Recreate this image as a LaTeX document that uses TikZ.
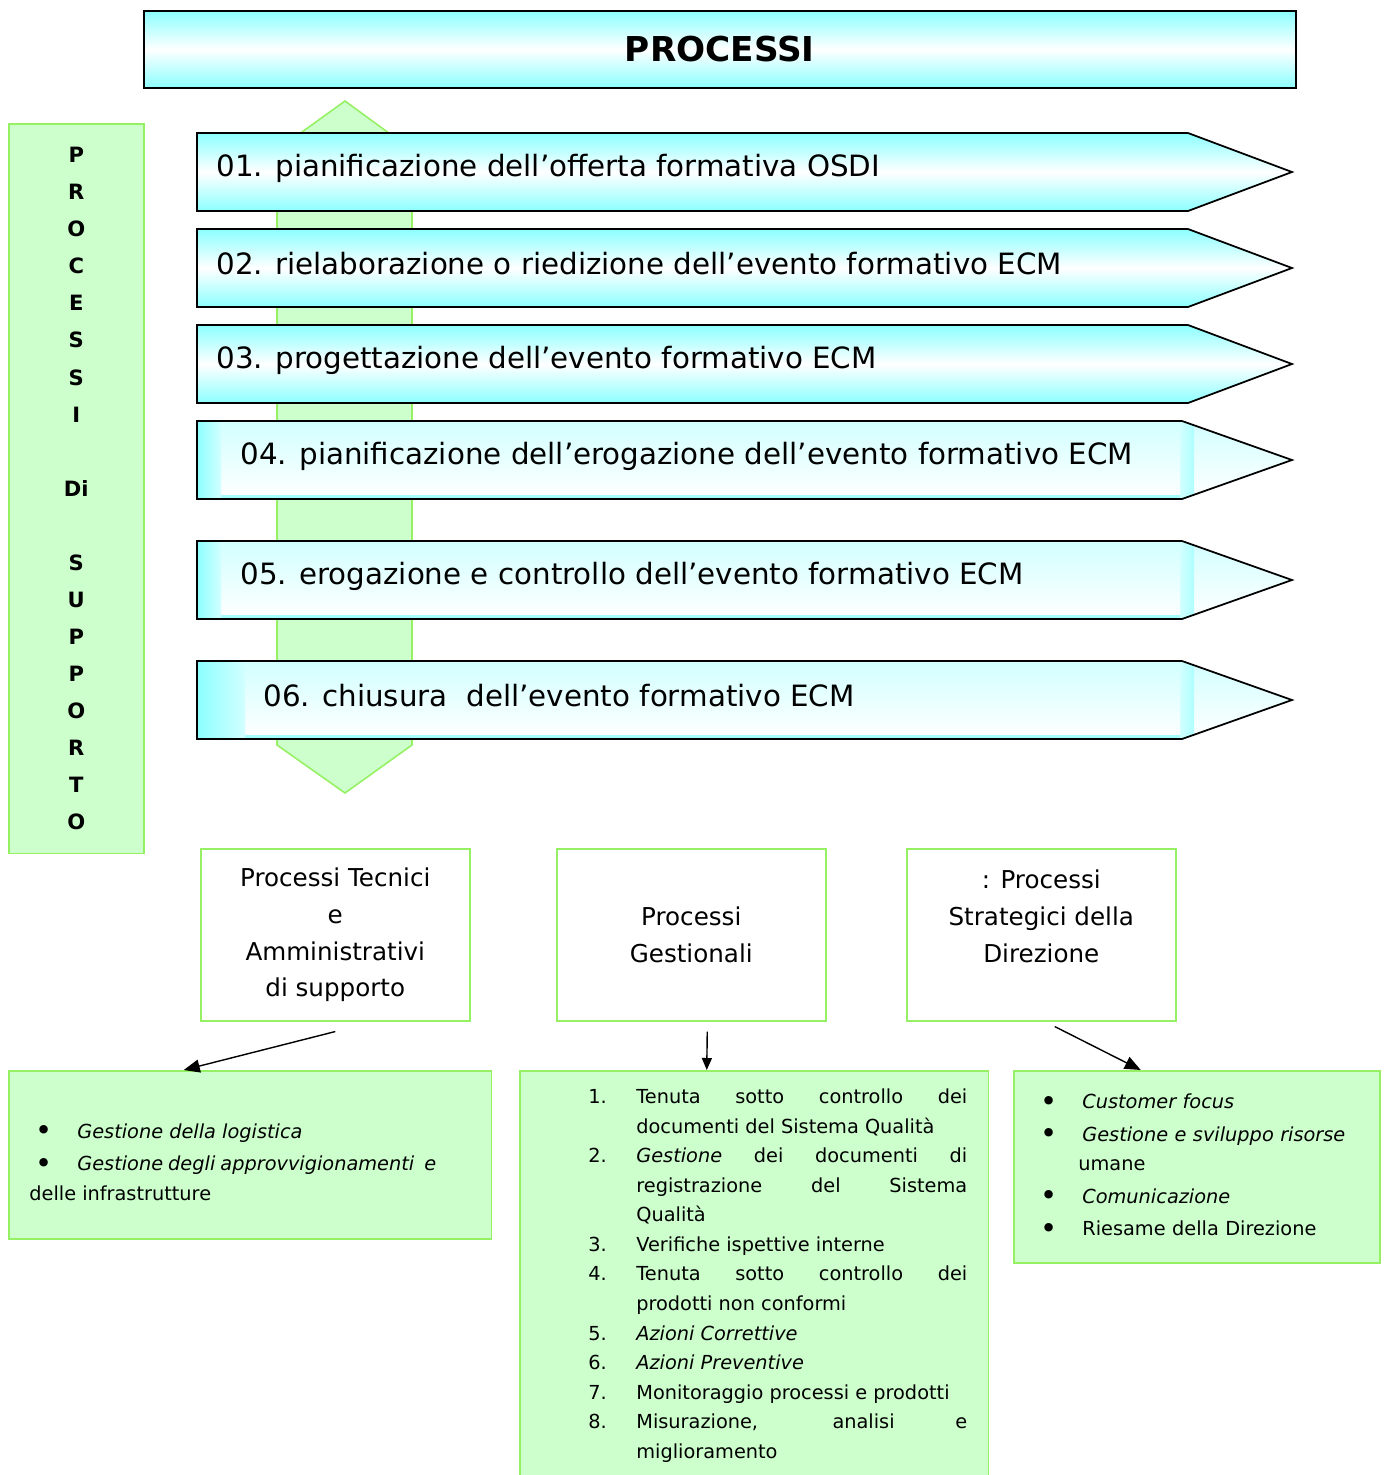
\documentclass[tikz,border=0pt]{standalone}
\usepackage{fontspec}
\usepackage{graphicx}
\setmainfont{DejaVu Sans}
\usetikzlibrary{arrows.meta,positioning}
\definecolor{procCyan}{RGB}{140,255,255}
\definecolor{cyanLight}{RGB}{210,255,255}
\definecolor{supGreen}{RGB}{204,255,204}
\definecolor{supLine}{RGB}{150,240,100}
\newcommand\pallino{\raisebox{-1.4pt}{\scalebox{1.5}{\textbullet}}}
\newcommand\voce[2]{\par\hangindent=9.6mm\hangafter=1\makebox[9.6mm][l]{#1}#2}
\newcommand\punto[1]{\par\hangindent=8.8mm\hangafter=1\makebox[9.6mm][l]{\hspace{1.2mm}\pallino}#1}
\begin{document}
\begin{tikzpicture}[x=0.02cm,y=-0.02cm,
	greenbox/.style={draw=supLine,line width=0.9pt,fill=supGreen,inner sep=0,anchor=north west},
	whitebox/.style={draw=supLine,line width=0.9pt,fill=white,align=center,anchor=north west,
		minimum width=53.8mm,minimum height=34.4mm,font=\fontsize{14}{21}\selectfont},
	steplbl/.style={anchor=west,inner sep=0,font=\fontsize{16.7}{20}\selectfont},
	listtxt/.style={anchor=north west,inner sep=0,font=\fontsize{11}{16.8}\selectfont},
	link/.style={-{Triangle[length=3.2mm,width=2.6mm]},line width=0.8pt}]
\useasboundingbox (0,0) rectangle (1385,1475);

% titolo
\node[draw,line width=1pt,top color=procCyan,bottom color=procCyan,middle color=white,
	minimum width=230.4mm,minimum height=15.4mm,anchor=north west,
	font=\bfseries\fontsize{19.5}{24}\selectfont] (titolo) at (143,10) {PROCESSI};

% processi di supporto
\node[greenbox,minimum width=27mm,minimum height=146mm,align=center,
	font=\bfseries\fontsize{12}{21.1}\selectfont] (supporto) at (8,123)
	{P\\R\\O\\C\\E\\S\\S\\I\\~\\Di\\~\\S\\U\\P\\P\\O\\R\\T\\O};

% freccia verticale
\draw[draw=supLine,line width=0.9pt,fill=supGreen] (345,101) -- (412,150) -- (412,745)
	-- (345,793) -- (277,745) -- (277,150) -- cycle;

% fasi 01-03
\foreach \y/\lbl [count=\i] in {172/{01. pianificazione dell’offerta formativa OSDI},
	268/{02. rielaborazione o riedizione dell’evento formativo ECM},
	364/{03. progettazione dell’evento formativo ECM}} {
	\draw[line width=1pt,top color=procCyan,bottom color=procCyan,middle color=white]
		(197,\y-39) -- (1188,\y-39) -- (1292,\y) -- (1188,\y+39) -- (197,\y+39) -- cycle;
	\node[steplbl] (fase\i) at (216,\y-4) {\lbl};
}

% fasi 04-06
\foreach \y/\ix/\tx/\lbl [count=\i from 4] in {460/221/240/{04. pianificazione dell’erogazione dell’evento formativo ECM},
	580/221/240/{05. erogazione e controllo dell’evento formativo ECM},
	700/245/263/{06. chiusura~ dell’evento formativo ECM}} {
	\begin{scope}
		\clip (197,\y-39) -- (1182,\y-39) -- (1292,\y) -- (1182,\y+39) -- (197,\y+39) -- cycle;
		\fill[top color=cyanLight,bottom color=white] (197,\y-39) rectangle (1292,\y+39);
		\fill[left color=procCyan,right color=cyanLight] (197,\y-39) rectangle (\ix,\y+39);
		\fill[procCyan!80] (\ix,\y+35) rectangle (1182,\y+39);
		\fill[left color=cyanLight,right color=procCyan!70] (1180,\y-39) rectangle (1194,\y+39);
	\end{scope}
	\draw[line width=1pt] (197,\y-39) -- (1182,\y-39) -- (1292,\y) -- (1182,\y+39) -- (197,\y+39) -- cycle;
	\node[steplbl] (fase\i) at (\tx,\y-4) {\lbl};
}

% tipi di processo
\node[whitebox] (tecnici) at (200,848) {Processi Tecnici\\e\\Amministrativi\\di supporto};
\node[whitebox] (gestionali) at (556,848) {Processi\\Gestionali};
\node[whitebox] (strategici) at (906,848) {: Processi\\Strategici della\\Direzione\\~};

% elenchi
\node[greenbox,minimum width=96.6mm,minimum height=33.6mm] (logistica) at (8,1070) {};
\node[greenbox,minimum width=93.8mm,minimum height=82mm] (qualita) at (519,1070) {};
\node[greenbox,minimum width=73.2mm,minimum height=38.4mm] (direzione) at (1013,1070) {};

\node[listtxt,text width=81.4mm,align=justify] (logisticatxt) at (29,1123)
	{\setlength\parskip{0.6mm}%
	\makebox[9.6mm][l]{\hspace{1.2mm}\pallino}\textit{Gestione della logistica}\par
	\makebox[9.6mm][l]{\hspace{1.2mm}\pallino}\textit{Gestione degli approvvigionamenti~ e}\linebreak
	delle infrastrutture\par};
\node[listtxt,text width=75.8mm,align=justify] (qualitatxt) at (588,1074)
	{\setlength\parindent{0pt}\hyphenpenalty=10000\relax
	\voce{1.}{Tenuta sotto controllo dei\linebreak documenti del Sistema Qualità}
	\voce{2.}{\textit{Gestione} dei documenti di\linebreak registrazione del Sistema\linebreak Qualità}
	\voce{3.}{Verifiche ispettive interne}
	\voce{4.}{Tenuta sotto controllo dei\linebreak prodotti non conformi}
	\voce{5.}{\textit{Azioni Correttive}}
	\voce{6.}{\textit{Azioni Preventive}}
	\voce{7.}{Monitoraggio processi e prodotti}
	\voce{8.}{Misurazione, analisi e\linebreak miglioramento}\par};
\node[listtxt,text width=66mm,align=left] (direzionetxt) at (1034,1076)
	{\setlength\parskip{0.6mm}%
	\punto{\textit{Customer focus}}
	\punto{\textit{Gestione e sviluppo risorse}\linebreak umane}
	\punto{\textit{Comunicazione}}
	\punto{Riesame della Direzione}\par};

% collegamenti
\draw[link] ([yshift=-2mm]tecnici.south) -- ([xshift=-13.3mm]logistica.north);
\draw[link,-{Triangle[length=2.4mm,width=2mm]}] ([xshift=3.2mm,yshift=-2mm]gestionali.south) -- ([xshift=-9.5mm]qualita.north);
\draw[link] ([xshift=2.7mm,yshift=-1mm]strategici.south) -- ([xshift=-11.2mm]direzione.north);
\end{tikzpicture}
\end{document}
